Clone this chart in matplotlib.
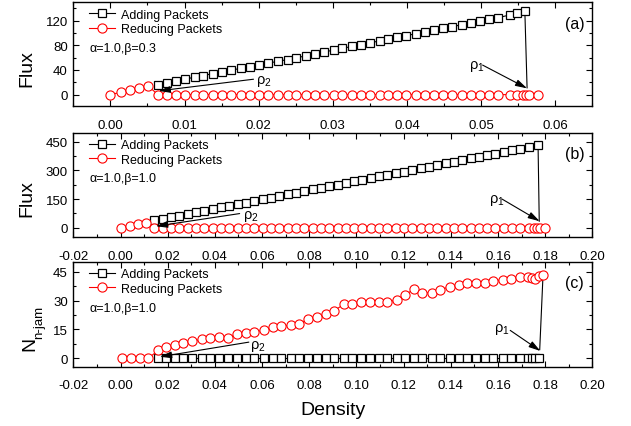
import matplotlib.pyplot as plt
from matplotlib.ticker import MultipleLocator, FormatStrFormatter

plt.rcParams['font.family'] = ['Liberation Sans', 'DejaVu Sans']
plt.rcParams['axes.unicode_minus'] = False
plt.rcParams['mathtext.fontset'] = 'custom'
plt.rcParams['mathtext.rm'] = 'Liberation Sans'
plt.rcParams['mathtext.it'] = 'Liberation Sans:italic'

# --- panel (a): alpha=1.0, beta=0.3 ---
a_add_x = [0.0064, 0.0076, 0.0089, 0.0101, 0.0114, 0.0125, 0.0138, 0.0150, 0.0163, 0.0176,
           0.0188, 0.0201, 0.0213, 0.0226, 0.0239, 0.0251, 0.0264, 0.0276, 0.0288, 0.0301,
           0.0313, 0.0326, 0.0338, 0.0350, 0.0363, 0.0375, 0.0387, 0.0399, 0.0412, 0.0425,
           0.0437, 0.0449, 0.0461, 0.0474, 0.0486, 0.0499, 0.0511, 0.0523, 0.0539, 0.0549,
           0.0559]
a_add_y = [15.5, 18.9, 22.3, 25.2, 28.4, 31.0, 34.0, 36.6, 39.8, 42.7,
           45.5, 48.4, 51.2, 54.1, 57.0, 59.9, 63.0, 66.1, 69.2, 72.3,
           75.2, 78.3, 81.2, 84.1, 87.2, 90.1, 93.0, 95.9, 98.9, 102.0,
           104.8, 107.6, 110.5, 113.5, 116.3, 119.4, 122.2, 125.0, 129.5, 132.5,
           135.5]
a_red_x = [0.0000, 0.0014, 0.0027, 0.0039, 0.0051,
           0.0064, 0.0076, 0.0089, 0.0101, 0.0114, 0.0125, 0.0138, 0.0150, 0.0163, 0.0176,
           0.0188, 0.0201, 0.0213, 0.0226, 0.0239, 0.0251, 0.0264, 0.0276, 0.0288, 0.0301,
           0.0313, 0.0326, 0.0338, 0.0350, 0.0363, 0.0375, 0.0387, 0.0399, 0.0412, 0.0425,
           0.0437, 0.0449, 0.0461, 0.0474, 0.0486, 0.0499, 0.0511, 0.0523, 0.0539, 0.0549,
           0.0557, 0.0561, 0.0565, 0.0577]
a_red_y = [0, 3.8, 7.5, 11.0, 14.0,
           0, 0, 0, 0, 0, 0, 0, 0, 0, 0,
           0, 0, 0, 0, 0, 0, 0, 0, 0, 0,
           0, 0, 0, 0, 0, 0, 0, 0, 0, 0,
           0, 0, 0, 0, 0, 0, 0, 0, 0, 0,
           0, 0, 0, 0]

# --- panel (b): alpha=1.0, beta=1.0 ---
b_add_x = [0.0144, 0.0179, 0.0215, 0.0250, 0.0285, 0.0320, 0.0356, 0.0391, 0.0426, 0.0461,
           0.0497, 0.0532, 0.0567, 0.0602, 0.0638, 0.0673, 0.0708, 0.0743, 0.0779, 0.0814,
           0.0849, 0.0884, 0.0920, 0.0955, 0.0990, 0.1025, 0.1061, 0.1096, 0.1131, 0.1166,
           0.1202, 0.1237, 0.1272, 0.1307, 0.1343, 0.1378, 0.1413, 0.1448, 0.1484, 0.1519,
           0.1554, 0.1589, 0.1625, 0.1660, 0.1695, 0.1730, 0.1770]
b_add_y = [37.9, 46.3, 55.0, 63.5, 71.9, 80.4, 89.2, 97.5, 106.0, 114.5,
           123.2, 131.6, 140.1, 148.6, 157.4, 165.8, 174.3, 182.7, 191.5, 199.9,
           208.4, 216.8, 225.5, 234.0, 242.5, 250.9, 259.6, 268.1, 276.5, 285.0,
           293.7, 302.2, 310.6, 319.1, 327.8, 336.2, 344.7, 353.2, 361.9, 370.4,
           378.8, 387.3, 396.0, 404.5, 412.9, 421.4, 431.0]
b_red_x = [0.0003, 0.0039, 0.0075, 0.0109,
           0.0144, 0.0179, 0.0215, 0.0250, 0.0285, 0.0320, 0.0356, 0.0391, 0.0426, 0.0461,
           0.0497, 0.0532, 0.0567, 0.0602, 0.0638, 0.0673, 0.0708, 0.0743, 0.0779, 0.0814,
           0.0849, 0.0884, 0.0920, 0.0955, 0.0990, 0.1025, 0.1061, 0.1096, 0.1131, 0.1166,
           0.1202, 0.1237, 0.1272, 0.1307, 0.1343, 0.1378, 0.1413, 0.1448, 0.1484, 0.1519,
           0.1554, 0.1589, 0.1625, 0.1660, 0.1695, 0.1730,
           0.1751, 0.1765, 0.1777, 0.1801]
b_red_y = [0, 8.6, 17.2, 25.9,
           0, 0, 0, 0, 0, 0, 0, 0, 0, 0,
           0, 0, 0, 0, 0, 0, 0, 0, 0, 0,
           0, 0, 0, 0, 0, 0, 0, 0, 0, 0,
           0, 0, 0, 0, 0, 0, 0, 0, 0, 0,
           0, 0, 0, 0, 0, 0,
           0, 0, 0, 0]

# --- panel (c): number of jammed nodes ---
c_red_x = [0.0007, 0.0045, 0.0082, 0.0117, 0.0160, 0.0194, 0.0230, 0.0266, 0.0304, 0.0346,
           0.0381, 0.0416, 0.0455, 0.0494, 0.0530, 0.0568, 0.0607, 0.0646, 0.0681, 0.0721,
           0.0756, 0.0793, 0.0833, 0.0869, 0.0907, 0.0946, 0.0982, 0.1020, 0.1056, 0.1094,
           0.1130, 0.1170, 0.1208, 0.1246, 0.1280, 0.1320, 0.1356, 0.1395, 0.1433, 0.1469,
           0.1507, 0.1544, 0.1580, 0.1620, 0.1657, 0.1695, 0.1726, 0.1744, 0.1758, 0.1772,
           0.1791]
c_red_y = [0, 0, 0, 0, 4.1, 5.9, 6.9, 8.1, 9.0, 9.8,
           10.3, 11.0, 10.3, 12.8, 13.3, 13.8, 14.5, 16.2, 16.7, 17.2,
           17.6, 20.2, 21.4, 22.8, 24.8, 28.0, 28.3, 29.3, 29.3, 29.3,
           29.3, 30.2, 33.1, 36.0, 34.0, 34.0, 35.7, 37.1, 37.9, 39.1,
           39.1, 39.1, 40.0, 40.9, 41.4, 42.1, 42.1, 41.7, 41.4, 42.6,
           43.1]
c_add_x = [0.0160, 0.0194, 0.0230, 0.0266, 0.0304, 0.0346, 0.0381, 0.0416, 0.0455, 0.0494,
           0.0530, 0.0568, 0.0607, 0.0646, 0.0681, 0.0721, 0.0756, 0.0793, 0.0833, 0.0869,
           0.0907, 0.0946, 0.0982, 0.1020, 0.1056, 0.1094, 0.1130, 0.1170, 0.1208, 0.1246,
           0.1280, 0.1320, 0.1356, 0.1395, 0.1433, 0.1469, 0.1507, 0.1544, 0.1580, 0.1620,
           0.1657, 0.1695, 0.1726, 0.1744, 0.1758, 0.1772]
c_add_y = [0, 0, 0, 0, 0, 0, 0, 0, 0, 0,
           0, 0, 0, 0, 0, 0, 0, 0, 0, 0,
           0, 0, 0, 0, 0, 0, 0, 0, 0, 0,
           0, 0, 0, 0, 0, 0, 0, 0, 0, 0,
           0, 0, 0, 0, 0, 0]

ETIQUETAS = ['Adding Packets', 'Reducing Packets']
PARAMS = ['α=1.0,β=0.3', 'α=1.0,β=1.0', 'α=1.0,β=1.0']
PANELES = ['(a)', '(b)', '(c)']

FLECHA = dict(arrowstyle='-|>,head_length=0.7,head_width=0.2', color='black',
              lw=0.8, mutation_scale=10, shrinkA=0, shrinkB=0)


def dibujar(ax, add_x, add_y, red_x, red_y, param, panel):
    ax.plot(add_x, add_y, color='black', lw=0.8, marker='s', ms=5.3, mfc='white',
            mec='black', mew=0.9, label=ETIQUETAS[0], zorder=3)
    ax.plot(red_x, red_y, color='red', lw=0.8, marker='o', ms=6.6, mfc='white',
            mec='red', mew=0.8, label=ETIQUETAS[1], zorder=3)
    ax.legend(loc='upper left', bbox_to_anchor=(0.03, 0.94), frameon=False, fontsize=9,
              handlelength=2.1, handletextpad=0.5, labelspacing=0.2, borderpad=0,
              borderaxespad=0, numpoints=1)
    ax.text(0.032, 0.565, param, transform=ax.transAxes, fontsize=9, va='center')
    ax.text(0.966, 0.80, panel, transform=ax.transAxes, fontsize=11.5, ha='center', va='center')
    ax.tick_params(which='both', direction='in', top=True, right=True, labelsize=9.5,
                   width=0.8)
    ax.tick_params(axis='x', which='both', pad=9)
    ax.tick_params(axis='y', which='both', pad=4)
    ax.tick_params(which='major', length=4)
    ax.tick_params(which='minor', length=2.5)
    for s in ax.spines.values():
        s.set_linewidth(1.0)


fig = plt.figure(figsize=(6.31, 4.27), dpi=100)
ax_a = fig.add_axes([0.1162, 0.7487, 0.8225, 0.2436])
ax_b = fig.add_axes([0.1162, 0.4419, 0.8225, 0.2443])
ax_c = fig.add_axes([0.1162, 0.1382, 0.8225, 0.2459])

# (a)
dibujar(ax_a, a_add_x, a_add_y, a_red_x, a_red_y, PARAMS[0], PANELES[0])
ax_a.set_xlim(-0.005, 0.065)
ax_a.set_ylim(-19, 150)
ax_a.xaxis.set_major_locator(MultipleLocator(0.01))
ax_a.xaxis.set_minor_locator(MultipleLocator(0.005))
ax_a.yaxis.set_major_locator(MultipleLocator(40))
ax_a.yaxis.set_minor_locator(MultipleLocator(20))
ax_a.plot([a_add_x[-1], 0.0562], [a_add_y[-1], 11], color='black', lw=0.8, zorder=2)
ax_a.annotate('', xy=(0.0562, 10.2), xytext=(0.0502, 48), arrowprops=FLECHA, zorder=4)
ax_a.text(0.0484, 48, r'$\mathregular{\rho_1}$', fontsize=10.5, va='center')
ax_a.annotate('', xy=(0.0065, 6), xytext=(0.0193, 25), arrowprops=FLECHA, zorder=4)
ax_a.text(0.0197, 23.5, r'$\mathregular{\rho_2}$', fontsize=10.5, va='center')

# (b)
dibujar(ax_b, b_add_x, b_add_y, b_red_x, b_red_y, PARAMS[1], PANELES[1])
ax_b.set_xlim(-0.02, 0.20)
ax_b.set_ylim(-50, 495)
ax_b.xaxis.set_major_locator(MultipleLocator(0.02))
ax_b.xaxis.set_minor_locator(MultipleLocator(0.01))
ax_b.yaxis.set_major_locator(MultipleLocator(150))
ax_b.yaxis.set_minor_locator(MultipleLocator(75))
ax_b.plot([b_add_x[-1], 0.1775], [b_add_y[-1], 34], color='black', lw=0.8, zorder=2)
ax_b.annotate('', xy=(0.1777, 34), xytext=(0.1617, 150), arrowprops=FLECHA, zorder=4)
ax_b.text(0.156, 148, r'$\mathregular{\rho_1}$', fontsize=10.5, va='center')
ax_b.annotate('', xy=(0.0150, 8), xytext=(0.0505, 74), arrowprops=FLECHA, zorder=4)
ax_b.text(0.052, 63, r'$\mathregular{\rho_2}$', fontsize=10.5, va='center')

# (c)
dibujar(ax_c, c_add_x, c_add_y, c_red_x, c_red_y, PARAMS[2], PANELES[2])
ax_c.set_xlim(-0.02, 0.20)
ax_c.set_ylim(-4.5, 50)
ax_c.xaxis.set_major_locator(MultipleLocator(0.02))
ax_c.xaxis.set_minor_locator(MultipleLocator(0.01))
ax_c.yaxis.set_major_locator(MultipleLocator(15))
ax_c.yaxis.set_minor_locator(MultipleLocator(7.5))
ax_c.plot([c_red_x[-1], 0.1777], [c_red_y[-1], 4.5], color='black', lw=0.8, zorder=2)
ax_c.annotate('', xy=(0.1780, 3.8), xytext=(0.1652, 14.5), arrowprops=FLECHA, zorder=4)
ax_c.text(0.1585, 15.3, r'$\mathregular{\rho_1}$', fontsize=10.5, va='center')
ax_c.annotate('', xy=(0.0167, 0.8), xytext=(0.0544, 8.4), arrowprops=FLECHA, zorder=4)
ax_c.text(0.0548, 6.4, r'$\mathregular{\rho_2}$', fontsize=10.5, va='center')

for ax in (ax_a, ax_b, ax_c):
    ax.xaxis.set_major_formatter(FormatStrFormatter('%.2f'))

# titulos de ejes
fig.text(0.0428, 0.8396, 'Flux', rotation=90, fontsize=14, ha='center', va='center')
fig.text(0.0428, 0.5351, 'Flux', rotation=90, fontsize=14, ha='center', va='center')
fig.text(0.0468, 0.1944, 'N', rotation=90, fontsize=14, ha='center', va='center')
fig.text(0.0626, 0.2447, 'n-jam', rotation=90, fontsize=9.5, ha='center', va='center')
fig.text(0.5277, 0.0398, 'Density', fontsize=14, ha='center', va='center')

fig.savefig('out.png', dpi=100)
